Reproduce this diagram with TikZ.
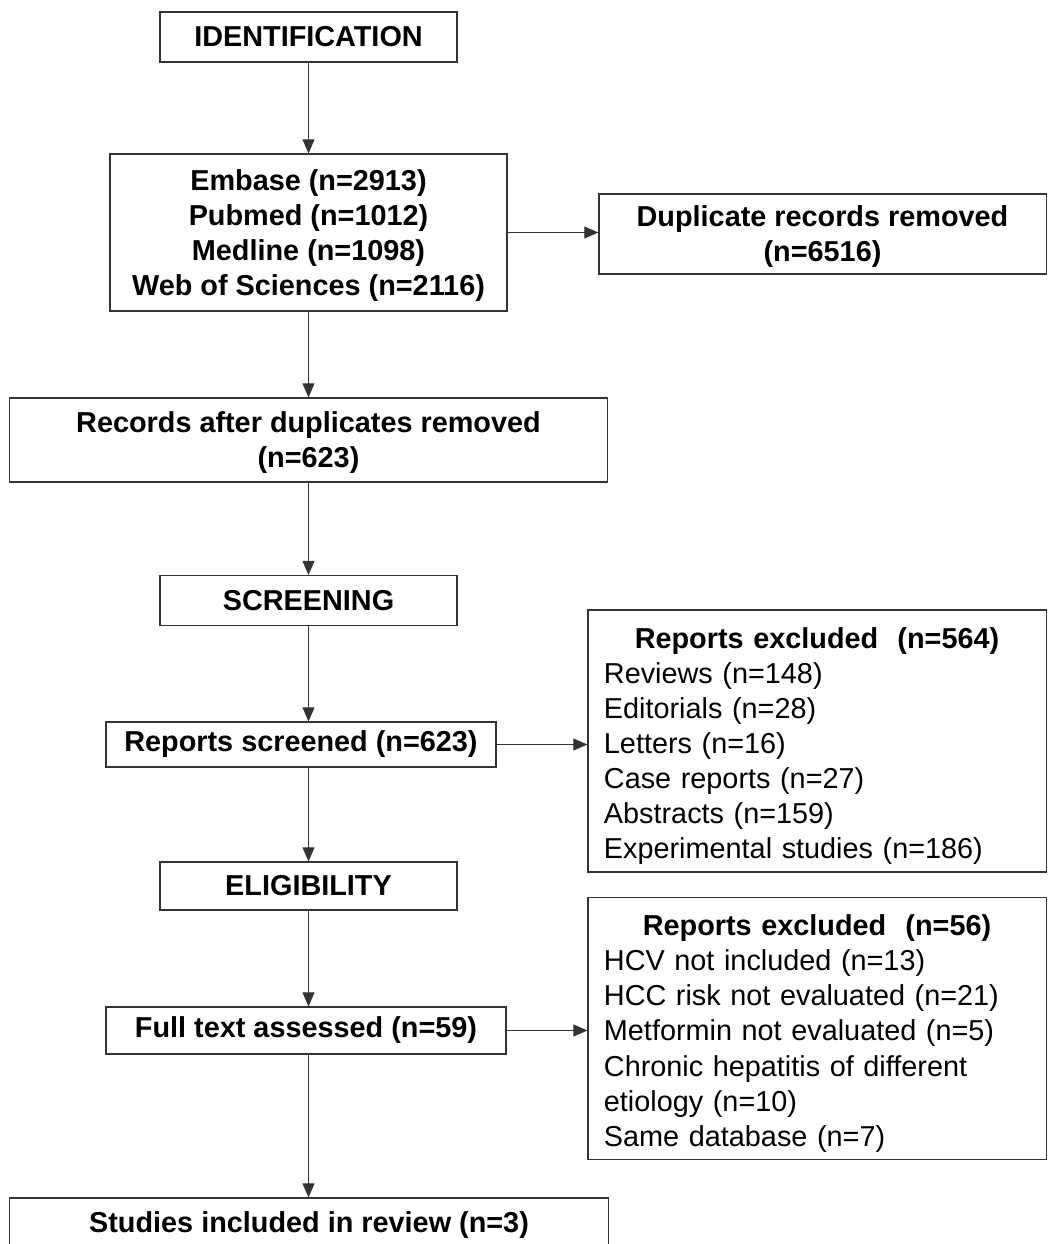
\documentclass[tikz,border=0pt]{standalone}
\usepackage{fontspec}
\setmainfont{Liberation Sans}
\usetikzlibrary{arrows.meta}

\begin{document}
\begin{tikzpicture}[x=0.025cm, y=-0.025cm,
    box/.style={draw=black!80, line width=0.8pt, align=center, inner sep=0pt,
      font=\bfseries\fontsize{20.5}{24.9}\selectfont},
    listbox/.style={draw=black!80, line width=0.8pt, align=left, inner xsep=0.4cm,
      text width=10.65cm, minimum height=6.55cm, font=\fontsize{20.5}{24.9}\selectfont},
    flow/.style={-{Triangle[length=10pt,width=8.5pt]}, line width=0.8pt, black!80}]
        \useasboundingbox (0,0) rectangle (1048,1244);
        % stages
        \node (ident) [box, minimum width=7.425cm, minimum height=1.25cm] at (308.5,37) {IDENTIFICATION};
        \node (scr) [box, minimum width=7.425cm, minimum height=1.25cm] at (308.5,600.5) {SCREENING};
        \node (elig) [box, minimum width=7.425cm, minimum height=1.2cm] at (308.5,886) {ELIGIBILITY};
        % main boxes
        \node (db) [box, minimum width=9.925cm, minimum height=3.925cm] at (308.5,232.5)
            {\rule{0pt}{19pt}Embase (n=2913)\\Pubmed (n=1012)\\Medline (n=1098)\\Web of Sciences (n=2116)};
        \node (rec) [box, minimum width=14.925cm, minimum height=2.1cm] at (308.5,440)
            {\rule{0pt}{19pt}Records after duplicates removed\\(n=623)};
        \node (rscr) [box, minimum width=9.75cm, minimum height=1.125cm] at (301,744.5) {Reports screened (n=623)};
        \node (full) [box, minimum width=10cm, minimum height=1.175cm] at (306,1030.5) {Full text assessed (n=59)};
        \node (stud) [box, minimum width=14.95cm, minimum height=1.35cm] at (309,1225) {Studies included in review (n=3)};
        % side boxes
        \node (dup) [box, minimum width=11.175cm, minimum height=2cm] at (822.5,234)
            {\rule{0pt}{19pt}Duplicate records removed\\(n=6516)};
        \node (excla) [listbox] at (817,741)
            {\rule{0pt}{22pt}\makebox[10.65cm][c]{\bfseries Reports excluded\ \ (n=564)}\\
             Reviews (n=148)\\Editorials (n=28)\\Letters (n=16)\\Case reports (n=27)\\
             Abstracts (n=159)\\Experimental studies (n=186)};
        \node (exclb) [listbox] at (817,1028.5)
            {\rule{0pt}{22pt}\makebox[10.65cm][c]{\bfseries Reports excluded\ \ (n=56)}\\
             HCV not included (n=13)\\HCC risk not evaluated (n=21)\\Metformin not evaluated (n=5)\\
             Chronic hepatitis of different\\etiology (n=10)\\Same database (n=7)};
        % arrows down
        \draw [flow] (ident) -- (db);
        \draw [flow] (db) -- (rec);
        \draw [flow] (rec) -- (scr);
        \draw [flow] (scr) -- (scr.south |- rscr.north);
        \draw [flow] (scr.south |- rscr.south) -- (elig);
        \draw [flow] (elig) -- (elig.south |- full.north);
        \draw [flow] (elig.south |- full.south) -- (elig.south |- stud.north);
        % arrows right
        \draw [flow] (db.east) -- (db.east -| dup.west);
        \draw [flow] (rscr.east) -- (rscr.east -| excla.west);
        \draw [flow] (full.east) -- (full.east -| exclb.west);
    \end{tikzpicture}
\end{document}
